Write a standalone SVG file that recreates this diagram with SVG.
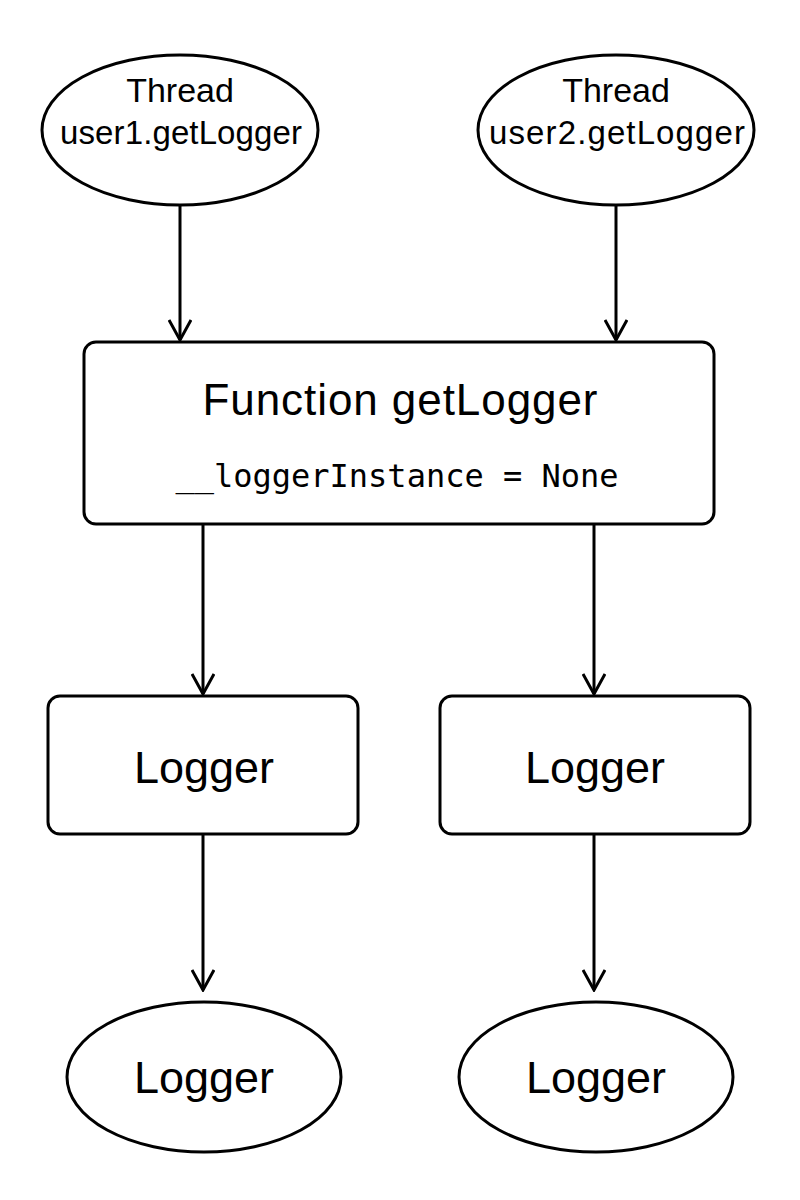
<svg xmlns="http://www.w3.org/2000/svg" width="800" height="1200" viewBox="0 0 800 1200">
<style>
.s{fill:#fff;stroke:#000;stroke-width:3}
.t{font-family:"Liberation Sans",Arial,sans-serif;text-anchor:middle;fill:#000}
.c line{stroke:#000;stroke-width:3}
</style>
<defs><marker id="a" viewBox="0 0 24 24" refX="22" refY="12" markerWidth="24" markerHeight="24" markerUnits="userSpaceOnUse" orient="auto"><path d="M2,1 L22,12 L2,23" fill="none" stroke="#000" stroke-width="3"/></marker></defs>
<rect width="800" height="1200" fill="#fff"/>
<g class="c">
<line x1="180" y1="205" x2="180" y2="340" marker-end="url(#a)"/>
<line x1="616" y1="205" x2="616" y2="340" marker-end="url(#a)"/>
<line x1="203" y1="524" x2="203" y2="694" marker-end="url(#a)"/>
<line x1="594" y1="524" x2="594" y2="694" marker-end="url(#a)"/>
<line x1="203" y1="834" x2="203" y2="990" marker-end="url(#a)"/>
<line x1="594" y1="834" x2="594" y2="990" marker-end="url(#a)"/>
</g>
<g id="t1"><ellipse class="s" cx="180" cy="130" rx="138" ry="75"/><text class="t" x="180" y="102" font-size="34">Thread</text><text class="t" x="181" y="144" font-size="33" textLength="242">user1.getLogger</text></g>
<g id="t2"><ellipse class="s" cx="616" cy="130" rx="138" ry="75"/><text class="t" x="616" y="102" font-size="34">Thread</text><text class="t" x="617" y="144" font-size="33" textLength="256">user2.getLogger</text></g>
<g id="f"><rect class="s" x="84" y="342" width="630" height="182" rx="12"/><text class="t" x="400" y="415" font-size="44" textLength="395">Function getLogger</text><text class="t" x="397" y="487" font-size="32" style="font-family:'DejaVu Sans Mono',monospace">__loggerInstance = None</text></g>
<g id="l1"><rect class="s" x="48" y="696" width="310" height="138" rx="12"/><text class="t" x="204" y="783" font-size="45">Logger</text></g>
<g id="l2"><rect class="s" x="440" y="696" width="310" height="138" rx="12"/><text class="t" x="595" y="783" font-size="45">Logger</text></g>
<g id="o1"><ellipse class="s" cx="204" cy="1077" rx="137" ry="75"/><text class="t" x="204" y="1093" font-size="45">Logger</text></g>
<g id="o2"><ellipse class="s" cx="596" cy="1077" rx="137" ry="75"/><text class="t" x="596" y="1093" font-size="45">Logger</text></g>
</svg>
